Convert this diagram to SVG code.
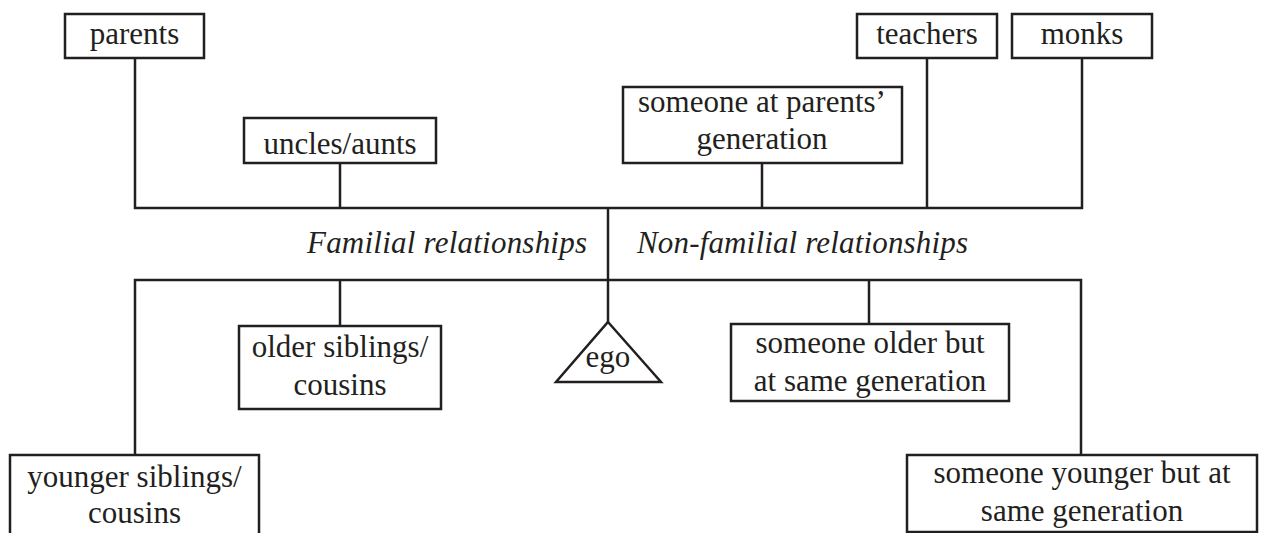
<svg xmlns="http://www.w3.org/2000/svg" width="1263" height="533" viewBox="0 0 1263 533">
<style>
.box{fill:#fff;stroke:#231f20;stroke-width:2.5}
.ln{fill:none;stroke:#231f20;stroke-width:2.5}
.t{font-family:"Liberation Serif","Times New Roman",serif;font-size:31px;fill:#231f20;text-anchor:middle}
.it{font-family:"Liberation Serif","Times New Roman",serif;font-size:31px;fill:#231f20;font-style:italic}
</style>
<rect width="1263" height="533" fill="#fff"/>
<g id="connectors">
<path class="ln" d="M135,58 V208 H1082 V58"/>
<path class="ln" d="M340,163 V208"/>
<path class="ln" d="M762,163 V208"/>
<path class="ln" d="M927,58 V208"/>
<path class="ln" d="M608,208 V322"/>
<path class="ln" d="M135,455 V280 H1081 V455"/>
<path class="ln" d="M340,280 V326"/>
<path class="ln" d="M869,280 V324"/>
</g>
<g id="labels">
<text class="it" x="307" y="253" textLength="280" lengthAdjust="spacing">Familial relationships</text>
<text class="it" x="637" y="253" textLength="331" lengthAdjust="spacing">Non-familial relationships</text>
</g>
<g id="parents"><rect class="box" x="65" y="14" width="139" height="44"/><text class="t" x="134.5" y="44">parents</text></g>
<g id="uncles"><rect class="box" x="244" y="118" width="192" height="45"/><text class="t" x="340" y="154">uncles/aunts</text></g>
<g id="parents-gen"><rect class="box" x="623" y="87" width="279" height="76"/><text class="t" x="762" y="112">someone at parents&#8217;</text><text class="t" x="762" y="149">generation</text></g>
<g id="teachers"><rect class="box" x="857" y="14" width="140" height="44"/><text class="t" x="927" y="44">teachers</text></g>
<g id="monks"><rect class="box" x="1012" y="14" width="140" height="44"/><text class="t" x="1082" y="44">monks</text></g>
<g id="older-siblings"><rect class="box" x="239" y="326" width="202" height="83"/><text class="t" x="340" y="357">older siblings/</text><text class="t" x="340" y="395">cousins</text></g>
<g id="ego"><path class="box" d="M608,322 L661,382 L556,382 Z"/><text class="t" x="608" y="367">ego</text></g>
<g id="someone-older"><rect class="box" x="731" y="324" width="278" height="77"/><text class="t" x="870" y="353">someone older but</text><text class="t" x="870" y="391">at same generation</text></g>
<g id="younger-siblings"><rect class="box" x="10" y="455" width="249" height="90"/><text class="t" x="134.5" y="487">younger siblings/</text><text class="t" x="134.5" y="523">cousins</text></g>
<g id="someone-younger"><rect class="box" x="907" y="455" width="350" height="77"/><text class="t" x="1082" y="483">someone younger but at</text><text class="t" x="1082" y="521">same generation</text></g>
</svg>
